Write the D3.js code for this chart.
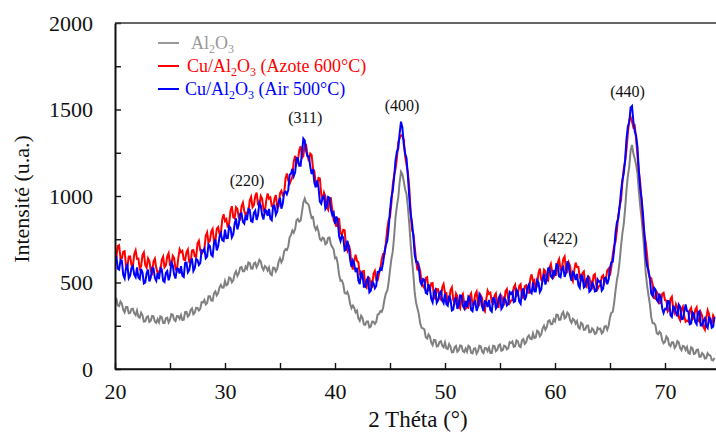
<!DOCTYPE html>
<html>
<head>
<meta charset="utf-8">
<script src="https://cdn.jsdelivr.net/npm/d3@7"></script>
<style>
  body { margin: 0; background: #fff; }
  svg { display: block; }
  svg text { font-family: "Liberation Serif", "Times New Roman", Tinos, "DejaVu Serif", serif !important; }
</style>
</head>
<body>
<script>
// 2 theta grid (degrees), one reading every 0.125 deg from 20 to 74.5
var twoTheta = d3.range(20, 74.51, 0.125);

// intensities (u.a.), 16 readings per row = 2 degrees
var al2o3 = [
  405,406,368,364,390,378,342,328, 358,358,322,324,347,349,322,312,
  338,302,297,325,310,274,275,300, 305,272,279,306,304,273,267,288,
  270,305,300,267,265,293,297,269, 285,317,314,285,277,306,305,290,
  312,283,285,329,330,303,312,341, 350,317,325,354,353,338,348,386,
  385,399,373,381,420,420,397,395, 438,449,425,438,472,486,470,471,
  508,484,490,529,525,501,513,549, 565,538,552,586,590,565,565,592,
  580,616,613,581,580,609,615,588, 605,631,622,587,572,595,588,569,
  587,550,543,586,585,564,580,620, 640,617,635,679,693,688,708,761,
  775,801,788,809,860,868,852,858, 908,964,985,961,957,946,905,873,
  878,826,805,822,795,751,743,759, 755,721,727,758,760,720,705,692,
  640,644,608,544,510,512,490,440, 435,446,422,377,352,367,353,327,
  337,292,278,308,295,257,255,275, 275,240,245,274,273,261,273,315,
  318,334,330,354,402,437,452,501, 570,636,678,766,875,942,990,1080,
  1140,1127,1085,1038,1012,938,840,725, 630,544,438,382,350,316,262,238,
  235,229,183,176,200,188,152,138, 168,167,130,133,157,161,135,126,
  153,119,115,144,130,96,98,125, 133,100,108,136,134,103,97,118,
  100,134,128,94,90,117,120,89, 103,134,130,101,92,121,120,104,
  124,93,93,135,133,103,110,136, 142,106,110,135,131,113,120,155,
  150,159,128,131,165,160,132,127, 166,173,145,154,184,194,175,172,
  206,179,183,221,215,189,200,235, 250,226,242,277,282,259,260,287,
  275,314,313,284,285,319,330,293, 300,326,317,282,267,290,283,262,
  277,240,233,268,260,226,228,250, 252,212,213,234,225,203,206,238,
  230,233,206,215,245,248,227,250, 298,326,330,381,452,513,555,622,
  710,784,838,926,1035,1117,1170,1262, 1295,1245,1215,1182,1130,1025,940,869,
  778,676,555,480,425,373,298,266, 265,254,207,201,215,205,165,149,
  158,188,178,140,132,155,155,122, 133,161,154,121,109,134,130,110,
  127,92,88,126,120,87,90,111, 112,71,71,92,83,61,63,91,
  80,78,52,50,64
];

var cuAzote = [
  655,647,710,715,640,639,678,681, 595,592,650,650,600,592,665,686,
  637,638,580,594,658,674,601,585, 640,624,568,554,621,638,585,555,
  565,563,631,649,588,599,651,670, 600,597,654,641,578,568,639,692,
  675,683,632,628,675,691,617,616, 685,688,652,648,725,741,687,666,
  685,692,770,790,730,742,795,810, 735,742,810,820,780,782,865,895,
  855,866,817,841,915,941,877,871, 935,925,875,867,940,962,915,890,
  905,905,975,995,935,947,1000,1020, 950,945,1000,985,920,907,975,1015,
  985,992,940,937,985,1005,935,940, 1015,1030,1005,1012,1100,1130,1090,1070,
  1090,1110,1200,1232,1185,1205,1265,1287, 1220,1232,1305,1295,1235,1200,1245,1237,
  1160,1142,1065,1060,1105,1102,1010,980, 1020,997,935,920,985,987,920,862,
  845,822,870,867,785,775,805,802, 710,685,720,687,605,575,625,660,
  625,617,550,532,565,567,480,470, 530,526,482,476,550,567,515,512,
  550,582,635,665,665,727,810,860, 880,957,1065,1120,1155,1217,1310,1335,
  1350,1352,1325,1232,1180,1135,1050,912, 805,780,705,627,570,597,565,502,
  480,467,525,530,455,455,495,497, 410,406,462,461,410,401,473,491,
  440,440,381,394,457,473,399,382, 436,420,364,350,417,433,380,349,
  358,354,421,437,374,383,432,448, 375,370,425,410,345,333,402,453,
  434,440,386,379,423,437,362,358, 425,425,385,377,450,462,405,380,
  395,398,472,487,423,431,480,490, 410,414,478,484,441,440,520,547,
  505,514,463,484,555,580,515,510, 575,566,517,511,585,607,560,532,
  545,545,616,635,575,585,635,650, 575,565,615,595,525,507,570,615,
  590,590,530,517,555,564,483,474, 535,530,485,472,540,548,486,462,
  479,486,533,541,500,520,570,580, 540,590,660,712,735,800,885,940,
  975,1077,1160,1200,1270,1365,1440,1455, 1430,1397,1405,1332,1230,1142,1075,967,
  840,775,730,657,555,525,525,487, 410,407,445,432,380,382,435,441,
  398,395,333,344,405,418,342,323, 375,356,298,282,347,361,306,273,
  280,274,339,353,288,295,342,357, 282,274,327,309,242,227,292,340,
  318,266,264,310,295
];

var cuAir = [
  650,650,580,575,630,625,543,524, 585,600,525,540,585,595,545,531,
  587,529,520,579,558,495,501,553, 575,507,528,585,581,526,510,555,
  520,583,576,510,503,555,566,513, 540,615,599,546,523,581,579,552,
  595,539,532,614,615,559,572,621, 640,566,582,636,630,601,612,686,
  680,695,640,650,720,710,660,652, 725,750,685,710,765,785,745,740,
  805,756,757,826,815,761,777,838, 870,807,835,897,900,850,840,890,
  860,925,920,855,850,902,915,862, 890,962,945,890,865,920,915,885,
  925,868,860,942,945,892,910,965, 990,927,955,1020,1025,1010,1035,1122,
  1130,1157,1115,1137,1220,1217,1175,1175, 1255,1332,1320,1260,1230,1230,1170,1127,
  1155,1077,1050,1090,1050,967,955,992, 1000,925,940,995,990,920,890,905,
  840,882,855,767,740,770,760,685, 690,742,705,632,590,627,605,560,
  585,512,490,557,545,475,475,515, 525,443,452,503,495,467,480,560,
  560,582,575,615,675,717,740,812, 915,992,1030,1107,1205,1255,1275,1362,
  1430,1395,1300,1245,1220,1117,995,900, 845,767,660,620,620,582,505,487,
  520,515,440,435,490,467,405,385, 445,458,382,396,440,449,398,381,
  435,375,366,424,402,338,344,395, 416,347,369,425,422,366,350,394,
  358,419,411,342,334,383,392,336, 360,432,415,360,335,391,387,358,
  399,340,331,409,408,350,362,408, 425,347,360,410,400,367,375,445,
  435,446,387,392,458,444,390,377, 445,466,398,419,471,488,445,437,
  500,449,448,514,500,445,460,520, 550,488,517,581,585,535,525,572,
  540,605,601,535,530,580,590,532, 555,622,600,540,510,560,550,515,
  550,485,470,542,535,471,478,519, 530,447,455,500,485,448,451,517,
  504,508,453,464,525,527,490,517, 585,617,620,687,785,847,870,937,
  1025,1092,1130,1210,1330,1402,1425,1512, 1520,1432,1375,1347,1280,1140,1040,982,
  895,782,650,595,570,522,435,422, 470,460,400,387,435,412,350,324,
  348,345,393,391,310,301,362,358, 325,304,373,360,287,289,331,373,
  335,332,259,263,328,320,272,259, 327,334,252,252,282,294,247,237,
  298,289,239,245,300
];

var xTicks = [20, 30, 40, 50, 60, 70];
var yTicks = [0, 500, 1000, 1500, 2000];
var peakLabels = ["(220)", "(311)", "(400)", "(422)", "(440)"];
var peakAt = [32.0, 37.3, 46.1, 60.5, 66.6];
var peakHeight = [1060, 1420, 1490, 720, 1575];

var w = 716;
var h = 433;

var svg = d3.select("body").append("svg")
    .attr("width", w)
    .attr("height", h);

var x = d3.scaleLinear().domain([20, 74.6]).range([115, 715.6]);
var y = d3.scaleLinear().domain([0, 2000]).range([369, 23]);

svg.append("clipPath").attr("id", "plot")
  .append("rect")
    .attr("x", 115).attr("y", 23)
    .attr("width", 601).attr("height", 346);

// series, grey first so blue ends up on top
var series = [
  { name: "al2o3", values: al2o3, color: "#808080", width: 2 },
  { name: "azote", values: cuAzote, color: "#ff0000", width: 2 },
  { name: "air", values: cuAir, color: "#0000ff", width: 2 }
];

var line = d3.line()
    .x(function(d) { return x(d[0]); })
    .y(function(d) { return y(d[1]); });

svg.append("g").attr("clip-path", "url(#plot)")
  .selectAll("path")
  .data(series)
  .enter()
  .append("path")
    .attr("fill", "none")
    .attr("stroke", function(d) { return d.color; })
    .attr("stroke-width", function(d) { return d.width; })
    .attr("stroke-linejoin", "miter")
    .attr("d", function(d) {
      return line(d.values.map(function(v, i) { return [twoTheta[i], v]; }));
    });

// axes, ticks pointing inwards
var xAxis = svg.append("g")
    .attr("transform", "translate(0,369)")
    .call(d3.axisBottom(x).tickValues(xTicks).tickSizeInner(-6).tickSizeOuter(0).tickPadding(14));

svg.append("g")
    .attr("transform", "translate(0,369)")
    .call(d3.axisBottom(x).tickValues([25, 35, 45, 55, 65]).tickSizeInner(-6).tickSizeOuter(0).tickFormat(""));

var yAxis = svg.append("g")
    .attr("transform", "translate(115,0)")
    .call(d3.axisLeft(y).tickValues(yTicks).tickFormat(d3.format("d")).tickSizeInner(-6).tickSizeOuter(0).tickPadding(22));

svg.append("g")
    .attr("transform", "translate(115,0)")
    .call(d3.axisLeft(y).tickValues([250, 750, 1250, 1750]).tickSizeInner(-6).tickSizeOuter(0).tickFormat(""));

svg.selectAll(".domain").attr("stroke", "#111").attr("stroke-width", 1.6);
svg.selectAll(".tick line").attr("stroke", "#111").attr("stroke-width", 1.4);
svg.selectAll("g").attr("font-family", null);

xAxis.selectAll("text")
    .attr("font-size", "22px")
    .attr("fill", "#111");
xAxis.selectAll(".domain").attr("d", "M115,0H716");

yAxis.selectAll("text")
    .attr("font-size", "22px")
    .attr("fill", "#111");

// top frame line
svg.append("line")
    .attr("x1", 115).attr("x2", 716)
    .attr("y1", 23).attr("y2", 23)
    .attr("stroke", "#333")
    .attr("stroke-width", 1.6);

// axis titles
svg.append("text")
    .attr("x", 418).attr("y", 427)
    .attr("text-anchor", "middle")
    .attr("font-size", "23px")
    .attr("fill", "#111")
    .text("2 Théta (°)");

svg.append("text")
    .attr("transform", "translate(29,199) rotate(-90)")
    .attr("text-anchor", "middle")
    .attr("font-size", "22px")
    .attr("fill", "#111")
    .text("Intensité (u.a.)");

// peak labels
svg.selectAll(".peak")
  .data(peakLabels)
  .enter()
  .append("text")
    .attr("class", "peak")
    .attr("x", function(d, i) { return x(peakAt[i]); })
    .attr("y", function(d, i) { return y(peakHeight[i]); })
    .attr("text-anchor", "middle")
    .attr("font-size", "16px")
    .attr("fill", "#111")
    .text(function(d) { return d; });

// legend
var legendNames = [
  ["Al", "2", "O", "3", ""],
  ["Cu/Al", "2", "O", "3", " (Azote 600°C)"],
  ["Cu/Al", "2", "O", "3", " (Air 500°C)"]
];
var legendColors = ["#999999", "#ff0000", "#0000ff"];
var legendY = [43, 66, 89];
var legendX = [191, 187, 185];

var legend = svg.selectAll(".leg")
  .data(legendNames)
  .enter()
  .append("g")
    .attr("class", "leg");

legend.append("line")
    .attr("x1", 158).attr("x2", 179)
    .attr("y1", function(d, i) { return legendY[i]; })
    .attr("y2", function(d, i) { return legendY[i]; })
    .attr("stroke", function(d, i) { return legendColors[i]; })
    .attr("stroke-width", 2);

var lt = legend.append("text")
    .attr("x", function(d, i) { return legendX[i]; })
    .attr("y", function(d, i) { return legendY[i] + 6; })
    .attr("font-size", "18px")
    .attr("fill", function(d, i) { return legendColors[i]; });

lt.append("tspan").text(function(d) { return d[0]; });
lt.append("tspan").attr("dy", 4).attr("font-size", "12px").text(function(d) { return d[1]; });
lt.append("tspan").attr("dy", -4).text(function(d) { return d[2]; });
lt.append("tspan").attr("dy", 4).attr("font-size", "12px").text(function(d) { return d[3]; });
lt.append("tspan").attr("dy", -4).text(function(d) { return d[4]; });
</script>
</body>
</html>
